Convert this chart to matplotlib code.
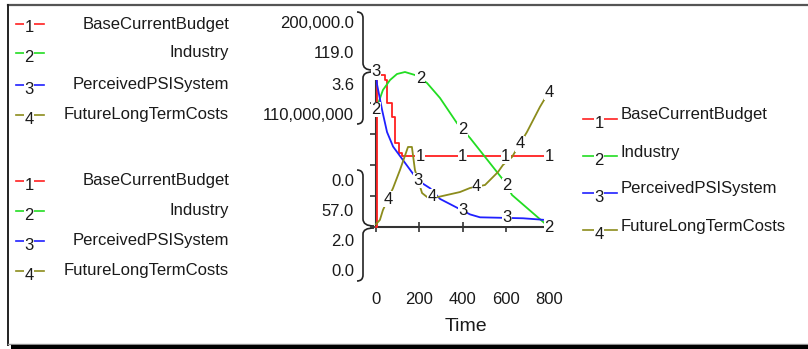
import numpy as np
import matplotlib
matplotlib.use("Agg")
import matplotlib.pyplot as plt
from matplotlib.path import Path
from matplotlib.patches import PathPatch

plt.rcParams["font.family"] = ["Liberation Sans", "DejaVu Sans"]

# --- data (time axis 0..800) ---
names = ["BaseCurrentBudget", "Industry", "PerceivedPSISystem", "FutureLongTermCosts"]
scale_max = ["200,000.0", "119.0", "3.6", "110,000,000"]
scale_min = ["0.0", "57.0", "2.0", "0.0"]
y_lo = [0.0, 57.0, 2.0, 0.0]
y_hi = [200000.0, 119.0, 3.6, 110000000.0]
colors = ["#ff2020", "#22dd22", "#2020ff", "#8c8c1c"]

budget_t = [0, 3, 40, 52, 72, 86, 108, 122, 800]
budget_v = [0, 196000, 190000, 160000, 142000, 108000, 95000, 91600, 91600]

industry_t = [0, 14, 32, 65, 97, 134, 180, 236, 296, 374, 435, 596, 629, 800]
industry_v = [104, 107.4, 111.8, 115.8, 118.2, 119, 117.8, 114.6, 108.6, 98.6, 92.6, 75, 69.8, 57]

psi_t = [0, 5, 28, 51, 79, 125, 194, 250, 296, 374, 435, 481, 680, 800]
psi_v = [3.6, 3.47, 3.21, 2.98, 2.83, 2.69, 2.48, 2.40, 2.29, 2.20, 2.13, 2.10, 2.09, 2.07]

costs_t = [0, 18, 32, 79, 111, 148, 166, 180, 213, 236, 287, 388, 435, 504, 564, 587, 629, 698, 758, 791, 800]
costs_v = [2e6, 5e6, 12e6, 27.7e6, 40.5e6, 56.8e6, 56.8e6, 40.5e6, 24.1e6, 21.3e6, 21.3e6, 24.8e6,
           27.7e6, 29.8e6, 39e6, 44e6, 49.7e6, 67.4e6, 85.2e6, 93.7e6, 95.7e6]

series_t = [budget_t, industry_t, psi_t, costs_t]
series_v = [budget_v, industry_v, psi_v, costs_v]
label_times = [[205, 400, 600, 800], [0, 205, 400, 605, 800], [0, 195, 400, 605], [55, 258, 465, 665, 800]]
x_ticks = [0, 200, 400, 600, 800]

TXT = "#1a1a1a"
FS = 12

fig = plt.figure(figsize=(8.08, 3.49), dpi=100)

# overlay in pixel coordinates for the frame, legends and brackets
ov = fig.add_axes([0, 0, 1, 1])
ov.set_xlim(0, 808)
ov.set_ylim(349, 0)
ov.axis("off")

# frame with shadow
ov.plot([8, 808], [5, 5], color="#555555", lw=1.6)
ov.plot([8, 8], [5, 345], color="#222222", lw=1.4)
ov.plot([8, 808], [343.5, 343.5], color="#999999", lw=1.0)
ov.plot([11, 808], [347, 347], color="#000000", lw=3.0, solid_capstyle="butt")

# left legend: max block and min block
rows_top = [24, 53, 85, 115]
rows_bot = [181, 211, 241, 271]
for rows, vals in ((rows_top, scale_max), (rows_bot, scale_min)):
    for i, y in enumerate(rows):
        ov.plot([16, 44], [y, y], color=colors[i], lw=1.2)
        ov.text(29, y + 4, str(i + 1), fontsize=FS, color=TXT, ha="center", va="center",
                bbox=dict(facecolor="white", edgecolor="none", pad=0.5))
        ov.text(229, y, names[i], fontsize=FS, color=TXT, ha="right", va="center")
        ov.text(354, y, vals[i], fontsize=FS, color=TXT, ha="right", va="center")

# brackets linking scales to the axis ends
def brace(pts):
    verts = [pts[0], (pts[1][0], pts[0][1]), pts[1], pts[2], (pts[2][0], pts[3][1]), pts[3]]
    codes = [Path.MOVETO, Path.CURVE3, Path.CURVE3, Path.LINETO, Path.CURVE3, Path.CURVE3]
    ov.add_patch(PathPatch(Path(verts, codes), facecolor="none", edgecolor="#222222", lw=1.2))

brace([(357, 12), (363, 18), (363, 63), (372, 70)])
brace([(372, 72), (363, 78), (363, 118), (357, 124)])
brace([(357, 170), (363, 176), (363, 219), (374, 226)])
brace([(374, 228), (363, 234), (363, 275), (357, 281)])

# right legend
rows_right = [115, 152, 189, 226]
for i, y in enumerate(rows_right):
    ov.plot([583, 617], [y + 4, y + 4], color=colors[i], lw=1.2)
    ov.text(599, y + 8.5, str(i + 1), fontsize=FS, color=TXT, ha="center", va="center",
            bbox=dict(facecolor="white", edgecolor="none", pad=0.5))
    ov.text(621, y, names[i], fontsize=FS, color=TXT, ha="left", va="center")

# main plot axes
ax = fig.add_axes([376 / 808, (349 - 227) / 349, 173 / 808, 155 / 349])
ax.set_facecolor("none")
ax.set_xlim(0, 800)
ax.set_ylim(0, 5)
for s in ("top", "right"):
    ax.spines[s].set_visible(False)
for s in ("left", "bottom"):
    ax.spines[s].set_color("#333333")
    ax.spines[s].set_linewidth(1.5)
ax.set_yticks(range(6))
ax.set_yticklabels([])
ax.tick_params(axis="y", direction="out", length=4, width=1.2, color="#333333")
ax.set_xticks(x_ticks)
ax.set_xticklabels([str(v) for v in x_ticks], fontsize=FS, color=TXT)
ax.tick_params(axis="x", direction="inout", length=7, width=1.2, color="#333333", pad=43)
ax.set_xlabel("Time", fontsize=14, color=TXT)
ax.xaxis.set_label_coords(0.52, -0.59)

twins = []
for i in range(4):
    tw = ax.twinx()
    tw.set_ylim(y_lo[i], y_hi[i])
    tw.axis("off")
    ds = "steps-post" if i == 0 else "default"
    tw.plot(series_t[i], series_v[i], color=colors[i], lw=1.3, drawstyle=ds, clip_on=False)
    twins.append(tw)

top = twins[-1]
for i, tw in enumerate(twins):
    for lt in label_times[i]:
        lv = np.interp(lt, series_t[i], series_v[i])
        top.text(lt, lv, str(i + 1), transform=tw.transData, fontsize=FS, color=TXT,
                 ha="center", va="center", clip_on=False,
                 bbox=dict(facecolor="white", edgecolor="none", pad=0.2))

fig.savefig("out.png", dpi=100)
